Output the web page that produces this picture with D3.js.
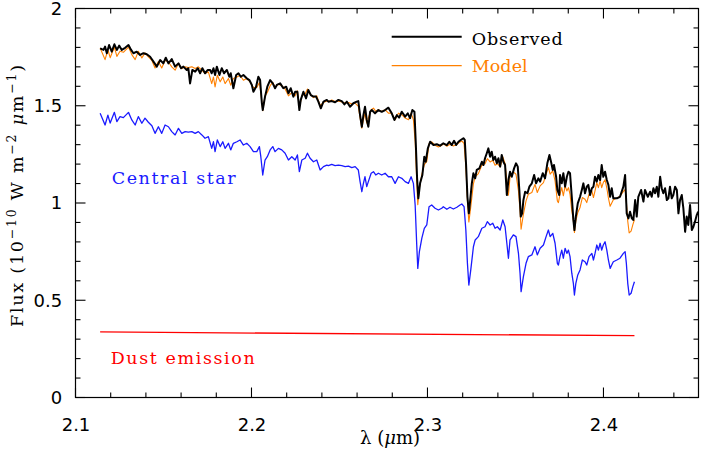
<!DOCTYPE html>
<html><head><meta charset="utf-8">
<script src="https://cdn.jsdelivr.net/npm/d3@7"></script>
<style>body{margin:0;background:#fff}</style>
</head><body><svg id="c" width="702" height="452"></svg>
<script>
const lambdaStar = [2.1140,2.1168,2.1184,2.1197,2.1221,2.1235,2.1253,2.1272,2.1301,2.1320,
2.1339,2.1357,2.1377,2.1395,2.1414,2.1434,2.1452,2.1471,2.1490,2.1509,
2.1528,2.1547,2.1566,2.1585,2.1604,2.1623,2.1641,2.1661,2.1680,2.1698,
2.1718,2.1736,2.1755,2.1774,2.1784,2.1793,2.1806,2.1822,2.1837,2.1850,
2.1869,2.1882,2.1897,2.1917,2.1935,2.1954,2.1973,2.1992,2.2011,2.2030,
2.2045,2.2053,2.2064,2.2077,2.2090,2.2106,2.2121,2.2134,2.2153,2.2172,
2.2191,2.2210,2.2229,2.2248,2.2261,2.2272,2.2286,2.2305,2.2318,2.2333,
2.2352,2.2371,2.2390,2.2409,2.2428,2.2437,2.2456,2.2475,2.2494,2.2513,
2.2532,2.2551,2.2570,2.2589,2.2607,2.2617,2.2627,2.2636,2.2645,2.2655,
2.2664,2.2680,2.2693,2.2706,2.2721,2.2740,2.2759,2.2778,2.2797,2.2816,
2.2835,2.2854,2.2873,2.2892,2.2907,2.2920,2.2930,2.2939,2.2945,2.2954,
2.2968,2.2982,2.2996,2.3009,2.3024,2.3043,2.3062,2.3081,2.3090,2.3110,
2.3128,2.3147,2.3167,2.3185,2.3195,2.3208,2.3218,2.3227,2.3235,2.3246,
2.3261,2.3271,2.3289,2.3309,2.3327,2.3340,2.3356,2.3371,2.3384,2.3397,
2.3413,2.3428,2.3441,2.3451,2.3460,2.3469,2.3488,2.3503,2.3517,2.3526,
2.3532,2.3545,2.3560,2.3573,2.3593,2.3611,2.3624,2.3640,2.3659,2.3674,
2.3687,2.3697,2.3712,2.3725,2.3738,2.3744,2.3753,2.3763,2.3772,2.3782,
2.3792,2.3801,2.3810,2.3820,2.3829,2.3835,2.3843,2.3854,2.3867,2.3880,
2.3895,2.3905,2.3918,2.3934,2.3943,2.3952,2.3962,2.3971,2.3981,2.3990,
2.3999,2.4009,2.4019,2.4028,2.4038,2.4047,2.4056,2.4076,2.4094,2.4113,
2.4123,2.4130,2.4138,2.4146,2.4157,2.4167,2.4176];

const starFlux = [1.461,1.401,1.452,1.411,1.466,1.418,1.444,1.439,1.466,1.427,
1.401,1.444,1.410,1.436,1.415,1.397,1.358,1.392,1.358,1.401,
1.392,1.367,1.350,1.384,1.358,1.367,1.364,1.367,1.358,1.367,
1.350,1.333,1.341,1.281,1.315,1.264,1.324,1.290,1.315,1.281,
1.307,1.273,1.307,1.315,1.324,1.298,1.307,1.290,1.264,1.264,
1.290,1.238,1.144,1.221,1.238,1.273,1.290,1.264,1.281,1.273,
1.256,1.221,1.238,1.221,1.247,1.161,1.221,1.230,1.256,1.230,
1.212,1.221,1.170,1.187,1.195,1.192,1.199,1.192,1.195,1.192,
1.187,1.190,1.182,1.187,1.170,1.110,1.058,1.101,1.135,1.084,
1.110,1.153,1.161,1.144,1.153,1.144,1.153,1.135,1.135,1.101,
1.135,1.127,1.110,1.101,1.135,1.101,0.990,0.784,0.664,0.750,
0.819,0.870,0.887,0.981,0.990,0.973,0.964,0.973,0.981,0.968,
0.978,0.969,0.978,0.990,0.995,0.981,0.861,0.690,0.578,0.656,
0.775,0.810,0.827,0.870,0.878,0.904,0.887,0.896,0.870,0.878,
0.861,0.913,0.878,0.793,0.716,0.810,0.836,0.827,0.741,0.639,
0.544,0.621,0.690,0.724,0.733,0.775,0.733,0.767,0.784,0.827,
0.861,0.827,0.844,0.793,0.690,0.681,0.724,0.758,0.716,0.767,
0.741,0.758,0.724,0.639,0.587,0.527,0.587,0.630,0.656,0.707,
0.698,0.681,0.724,0.741,0.707,0.741,0.784,0.758,0.793,0.758,
0.784,0.801,0.758,0.707,0.664,0.681,0.698,0.707,0.716,0.741,
0.750,0.690,0.587,0.527,0.536,0.570,0.595];

const modelFlux = [1.797,1.737,1.788,1.747,1.802,1.754,1.780,1.775,1.802,1.763,
1.737,1.780,1.746,1.772,1.751,1.733,1.694,1.728,1.694,1.734,
1.725,1.700,1.683,1.717,1.691,1.700,1.697,1.700,1.691,1.700,
1.683,1.666,1.674,1.614,1.648,1.597,1.657,1.623,1.648,1.614,
1.640,1.606,1.640,1.648,1.657,1.631,1.640,1.623,1.594,1.594,
1.620,1.568,1.474,1.551,1.568,1.603,1.620,1.594,1.611,1.603,
1.586,1.551,1.568,1.551,1.577,1.491,1.551,1.560,1.586,1.560,
1.542,1.551,1.500,1.517,1.525,1.522,1.529,1.522,1.525,1.519,
1.514,1.517,1.509,1.514,1.497,1.437,1.385,1.428,1.462,1.411,
1.437,1.480,1.488,1.471,1.480,1.471,1.480,1.462,1.462,1.428,
1.462,1.454,1.437,1.428,1.462,1.428,1.317,1.111,0.991,1.077,
1.146,1.197,1.214,1.305,1.314,1.297,1.288,1.297,1.305,1.292,
1.302,1.293,1.302,1.314,1.319,1.305,1.185,1.014,0.902,0.980,
1.099,1.134,1.151,1.194,1.202,1.228,1.211,1.220,1.194,1.202,
1.185,1.237,1.202,1.117,1.040,1.134,1.160,1.148,1.062,0.960,
0.865,0.942,1.011,1.045,1.054,1.096,1.054,1.088,1.105,1.148,
1.182,1.148,1.165,1.114,1.011,1.002,1.045,1.079,1.037,1.088,
1.062,1.079,1.045,0.960,0.908,0.848,0.908,0.951,0.977,1.028,
1.019,1.002,1.045,1.062,1.028,1.062,1.105,1.079,1.114,1.079,
1.105,1.120,1.077,1.026,0.983,1.000,1.017,1.026,1.035,1.060,
1.069,1.009,0.906,0.846,0.855,0.889,0.914];

const lambdaObs = [2.1140,2.1159,2.1168,2.1178,2.1191,2.1206,2.1221,2.1235,2.1248,2.1263,
2.1282,2.1301,2.1316,2.1329,2.1348,2.1367,2.1386,2.1405,2.1424,2.1443,
2.1462,2.1481,2.1499,2.1513,2.1528,2.1547,2.1566,2.1585,2.1600,2.1613,
2.1632,2.1641,2.1651,2.1664,2.1680,2.1695,2.1708,2.1721,2.1736,2.1752,
2.1765,2.1774,2.1784,2.1793,2.1803,2.1818,2.1831,2.1844,2.1860,2.1874,
2.1882,2.1897,2.1913,2.1926,2.1939,2.1954,2.1973,2.1988,2.2002,2.2011,
2.2026,2.2039,2.2049,2.2059,2.2064,2.2077,2.2090,2.2106,2.2121,2.2134,
2.2144,2.2163,2.2181,2.2197,2.2210,2.2223,2.2238,2.2248,2.2261,2.2272,
2.2280,2.2295,2.2310,2.2323,2.2337,2.2352,2.2367,2.2380,2.2394,2.2409,
2.2428,2.2437,2.2456,2.2475,2.2494,2.2513,2.2528,2.2542,2.2560,2.2579,
2.2598,2.2607,2.2617,2.2627,2.2636,2.2645,2.2655,2.2664,2.2674,2.2684,
2.2702,2.2721,2.2740,2.2759,2.2778,2.2797,2.2812,2.2826,2.2839,2.2854,
2.2873,2.2888,2.2901,2.2914,2.2926,2.2934,2.2941,2.2948,2.2958,2.2971,
2.2982,2.2990,2.3002,2.3015,2.3034,2.3053,2.3072,2.3090,2.3110,2.3124,
2.3138,2.3151,2.3163,2.3176,2.3189,2.3204,2.3212,2.3219,2.3227,2.3235,
2.3242,2.3252,2.3261,2.3271,2.3280,2.3295,2.3309,2.3318,2.3327,2.3337,
2.3346,2.3356,2.3365,2.3374,2.3384,2.3394,2.3403,2.3413,2.3422,2.3431,
2.3441,2.3451,2.3460,2.3469,2.3479,2.3492,2.3503,2.3513,2.3522,2.3530,
2.3538,2.3545,2.3555,2.3568,2.3579,2.3593,2.3606,2.3617,2.3630,2.3640,
2.3655,2.3668,2.3681,2.3693,2.3702,2.3712,2.3719,2.3731,2.3738,2.3749,
2.3753,2.3763,2.3772,2.3782,2.3792,2.3801,2.3810,2.3820,2.3829,2.3835,
2.3843,2.3854,2.3867,2.3877,2.3886,2.3895,2.3905,2.3914,2.3924,2.3934,
2.3943,2.3952,2.3962,2.3971,2.3981,2.3990,2.3999,2.4009,2.4019,2.4028,
2.4038,2.4047,2.4056,2.4076,2.4094,2.4113,2.4123,2.4132,2.4142,2.4151,
2.4161,2.4170,2.4180,2.4189,2.4198,2.4214,2.4227,2.4236,2.4252,2.4265,
2.4274,2.4284,2.4293,2.4303,2.4312,2.4322,2.4331,2.4340,2.4350,2.4360,
2.4369,2.4378,2.4388,2.4397,2.4407,2.4417,2.4426,2.4435,2.4445,2.4454,
2.4464,2.4473,2.4482,2.4492,2.4502,2.4511,2.4520,2.4530,2.4538];

const obsFlux = [1.795,1.787,1.804,1.770,1.812,1.778,1.816,1.787,1.809,1.787,
1.798,1.812,1.787,1.770,1.778,1.761,1.770,1.765,1.752,1.727,
1.701,1.735,1.718,1.747,1.718,1.740,1.701,1.718,1.693,1.701,
1.684,1.693,1.615,1.684,1.675,1.693,1.667,1.693,1.667,1.684,
1.684,1.667,1.693,1.658,1.701,1.658,1.693,1.667,1.684,1.649,
1.667,1.590,1.658,1.667,1.649,1.658,1.641,1.632,1.607,1.572,
1.598,1.649,1.632,1.513,1.478,1.547,1.598,1.632,1.615,1.590,
1.607,1.615,1.590,1.598,1.564,1.590,1.547,1.572,1.572,1.478,
1.530,1.572,1.538,1.581,1.555,1.547,1.547,1.521,1.487,1.521,
1.530,1.521,1.524,1.518,1.530,1.524,1.507,1.521,1.495,1.513,
1.521,1.524,1.452,1.392,1.452,1.495,1.427,1.392,1.469,1.478,
1.461,1.478,1.469,1.478,1.490,1.461,1.427,1.452,1.439,1.469,
1.444,1.461,1.436,1.478,1.469,1.298,1.127,1.024,1.101,1.144,
1.238,1.212,1.281,1.315,1.298,1.302,1.295,1.307,1.298,1.315,
1.298,1.320,1.298,1.315,1.324,1.333,1.324,1.204,1.032,0.947,
1.007,1.101,1.153,1.127,1.170,1.178,1.212,1.195,1.230,1.256,
1.281,1.238,1.264,1.221,1.238,1.204,1.230,1.187,1.247,1.212,
1.195,1.041,1.118,1.161,1.135,1.178,1.204,1.187,1.067,0.930,
0.947,1.015,1.058,1.050,1.084,1.101,1.144,1.101,1.127,1.110,
1.153,1.127,1.204,1.247,1.212,1.170,1.195,1.135,1.067,1.041,
1.144,1.101,1.153,1.084,1.135,1.161,1.153,1.032,0.913,0.861,
0.930,0.998,1.032,1.067,1.101,1.050,1.084,1.093,1.041,1.076,
1.084,1.135,1.110,1.144,1.118,1.195,1.135,1.161,1.118,1.093,
1.032,1.076,1.024,1.024,1.032,1.084,1.144,0.947,0.921,0.955,
0.921,0.913,1.015,0.930,1.032,1.067,1.007,1.067,1.032,1.058,
1.032,1.076,1.050,1.084,1.032,1.135,1.076,1.050,1.076,1.015,
1.024,1.084,1.024,1.041,1.084,1.067,0.947,1.015,1.041,0.973,
0.852,0.930,0.887,0.990,0.861,0.878,0.904,0.938,0.955];

const lambdaDust = [2.1140, 2.4176];
const dustFlux = [0.337, 0.318];

const xDomain = [2.1, 2.454];
const yDomain = [0, 2];
const xTickLabels = [2.1, 2.2, 2.3, 2.4];
const yTickLabels = [0, 0.5, 1, 1.5, 2];
const legendNames = ["Observed", "Model"];
const legendColors = ["#000000", "#ff8000"];

const W = 702, H = 452;
const M = {left: 75.5, right: 3.5, top: 8.5, bottom: 54.5};
const svg = d3.select("#c");
const x = d3.scaleLinear(xDomain, [M.left, W - M.right]);
const y = d3.scaleLinear(yDomain, [H - M.bottom, M.top]);
const x0 = M.left, x1 = W - M.right, y0 = H - M.bottom, y1 = M.top;

const labFont = "DejaVu Serif";
const tickFont = "DejaVu Sans";

svg.append("defs").append("clipPath").attr("id","clip")
  .append("rect").attr("x", x0).attr("y", y1)
  .attr("width", x1 - x0).attr("height", y0 - y1);

// tick labels via d3 axes (tick lines drawn separately below)
function styleAxis(g){
  g.select(".domain").remove();
  g.selectAll(".tick line").remove();
  g.selectAll("text").attr("font-family", tickFont).attr("font-size", 18)
    .attr("fill", "#000");
}
svg.append("g").attr("transform",`translate(0,${y0})`)
  .call(d3.axisBottom(x).tickValues(xTickLabels).tickFormat(d3.format(".1f")).tickSize(0).tickPadding(20.5))
  .call(styleAxis);
svg.append("g").attr("transform",`translate(${x0},0)`)
  .call(d3.axisLeft(y).tickValues(yTickLabels).tickFormat(d => String(d)).tickSize(0).tickPadding(13.4))
  .call(styleAxis);

// inward tick marks on all four sides
const xMinor = d3.range(2.1, 2.4541, 0.02).filter(v => !xTickLabels.some(t => Math.abs(t - v) < 1e-6));
const yMinor = d3.range(0, 2.001, 0.1).filter(v => !yTickLabels.some(t => Math.abs(t - v) < 1e-6));
const xTk = xTickLabels.map(v => ({v, L: 10})).concat(xMinor.map(v => ({v, L: 5})));
const yTk = yTickLabels.map(v => ({v, L: 10})).concat(yMinor.map(v => ({v, L: 5})));
const tickLines = [];
xTk.forEach(t => {
  tickLines.push({x1: x(t.v), x2: x(t.v), y1: y0, y2: y0 - t.L});
  tickLines.push({x1: x(t.v), x2: x(t.v), y1: y1, y2: y1 + t.L});
});
yTk.forEach(t => {
  tickLines.push({x1: x0, x2: x0 + t.L, y1: y(t.v), y2: y(t.v)});
  tickLines.push({x1: x1, x2: x1 - t.L, y1: y(t.v), y2: y(t.v)});
});
const tg = svg.append("g").attr("class","ticks");
tickLines.forEach(d => {
  tg.append("line").attr("x1", d.x1).attr("x2", d.x2).attr("y1", d.y1).attr("y2", d.y2)
    .attr("stroke", "#000").attr("stroke-width", 1.1);
});

// frame
svg.append("rect").attr("x", x0).attr("y", y1)
  .attr("width", x1 - x0).attr("height", y0 - y1)
  .attr("fill","none").attr("stroke","#000").attr("stroke-width",1.2);

const line = d3.line().x(d => x(d[0])).y(d => y(d[1]));
const plot = svg.append("g").attr("clip-path","url(#clip)");

plot.append("path").datum(d3.zip(lambdaDust, dustFlux)).attr("d", line)
  .attr("fill","none").attr("stroke","#ff0000").attr("stroke-width",1.3);
plot.append("path").datum(d3.zip(lambdaStar, starFlux)).attr("d", line)
  .attr("fill","none").attr("stroke","#1a1aff").attr("stroke-width",1.3).attr("stroke-linejoin","round");
plot.append("path").datum(d3.zip(lambdaStar, modelFlux)).attr("d", line)
  .attr("fill","none").attr("stroke","#ff8000").attr("stroke-width",1.1).attr("stroke-linejoin","round");
plot.append("path").datum(d3.zip(lambdaObs, obsFlux)).attr("d", line)
  .attr("fill","none").attr("stroke","#000").attr("stroke-width",2).attr("stroke-linejoin","round");

// legend
const legY = [36.7, 65.7];
const legBase = [45, 71.7];
const legW = [91, 56];
legendNames.forEach((n, i) => {
  svg.append("line").attr("x1", 391.7).attr("x2", 461.7).attr("y1", legY[i]).attr("y2", legY[i])
    .attr("stroke", legendColors[i]).attr("stroke-width", i === 0 ? 2 : 1.3);
  svg.append("text").attr("x", 471.7).attr("y", legBase[i]).text(n)
    .attr("font-family", labFont).attr("font-size", 17.5).attr("fill", legendColors[i])
    .attr("textLength", legW[i]).attr("lengthAdjust","spacing");
});

// curve labels
svg.append("text").attr("x", 111.7).attr("y", 184).text("Central star")
  .attr("font-family", labFont).attr("font-size", 17.5).attr("fill", "#1a1aff")
  .attr("textLength", 124).attr("lengthAdjust","spacing");
svg.append("text").attr("x", 110.7).attr("y", 364).text("Dust emission")
  .attr("font-family", labFont).attr("font-size", 17.5).attr("fill", "#ff0000")
  .attr("textLength", 144).attr("lengthAdjust","spacing");

// x title
const xtt = svg.append("text").attr("x", 390).attr("y", 444).attr("text-anchor","middle")
  .attr("font-family", labFont).attr("font-size", 18).attr("fill","#000");
xtt.append("tspan").text("λ (");
xtt.append("tspan").attr("font-style","italic").text("μ");
xtt.append("tspan").text("m)");

// y title
const yt = svg.append("text").attr("transform","translate(23,196) rotate(-90)")
  .attr("text-anchor","middle").attr("font-family", labFont).attr("font-size", 17.5).attr("fill","#000")
  .attr("textLength", 262).attr("lengthAdjust","spacing");
yt.append("tspan").text("Flux (10");
yt.append("tspan").attr("dy",-7).attr("font-size",12.5).text("−10");
yt.append("tspan").attr("dy",7).text(" W m");
yt.append("tspan").attr("dy",-7).attr("font-size",12.5).text("−2");
yt.append("tspan").attr("dy",7).text(" ");
yt.append("tspan").attr("font-style","italic").text("μ");
yt.append("tspan").text("m");
yt.append("tspan").attr("dy",-7).attr("font-size",12.5).text("−1");
yt.append("tspan").attr("dy",7).text(")");
</script></body></html>
